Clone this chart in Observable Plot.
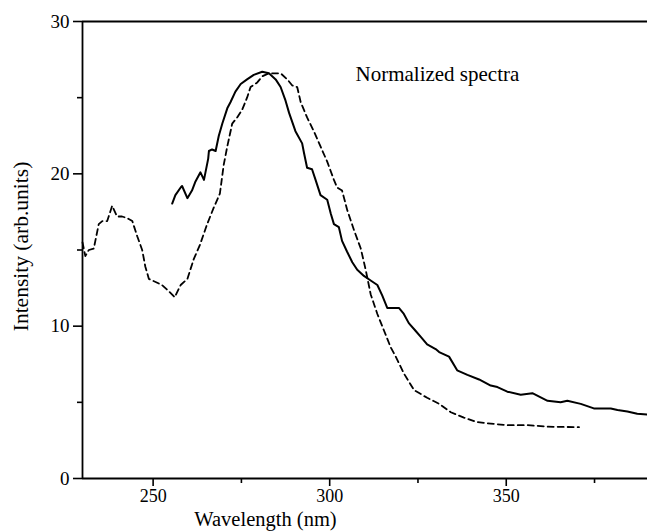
<!DOCTYPE html>
<html>
<head>
<meta charset="utf-8">
<script src="https://cdn.jsdelivr.net/npm/d3@7"></script>
<script src="https://cdn.jsdelivr.net/npm/@observablehq/plot@0.6"></script>
<style>
  html, body { margin: 0; padding: 0; background: #fff; }
  #chart svg { display: block; }
  #chart svg, #chart svg text { font-family: "Liberation Serif", "Times New Roman", "DejaVu Serif", serif !important; }
</style>
</head>
<body>
<div id="chart"></div>
<script>
// Solid spectrum (wavelength nm, intensity)
const solidX = [255.4,256.3,257.8,258.2,259.7,261.0,262.0,263.4,264.4,265.6,265.8,266.7,267.7,268.6,269.6,271.0,271.9,273.3,274.8,276.6,278.5,280.9,282.8,284.7,286.1,287.5,288.5,290.3,292.2,292.7,293.6,295.0,296.0,297.4,299.3,300.3,301.2,302.6,303.5,304.9,306.4,307.8,309.7,311.6,313.5,314.9,316.3,319.6,321.0,322.4,324.3,325.8,327.6,330.0,331.0,333.8,336.1,339.0,342.3,345.6,347.5,350.3,354.1,357.4,361.7,365.4,367.3,371.1,374.8,379.6,381.5,384.3,387.1,390.0];
const solidY = [18.05,18.6,19.1,19.2,18.4,18.9,19.5,20.1,19.6,21.0,21.5,21.6,21.5,22.5,23.3,24.3,24.7,25.4,25.9,26.2,26.5,26.7,26.6,26.2,25.7,24.8,24.0,22.8,22.0,21.4,20.4,20.3,19.6,18.6,18.3,17.4,16.7,16.5,15.6,14.9,14.2,13.7,13.3,13.0,12.7,12.0,11.2,11.2,10.8,10.2,9.7,9.3,8.8,8.5,8.3,8.0,7.1,6.8,6.5,6.1,6.0,5.7,5.5,5.6,5.1,5.0,5.1,4.9,4.6,4.6,4.5,4.4,4.25,4.2];

// Dashed spectrum
const dashX = [230.0,230.8,231.8,233.2,234.6,235.6,237.0,238.4,239.8,241.2,242.6,244.1,245.5,246.9,247.8,248.8,250.7,252.5,254.4,256.1,257.8,259.7,261.5,263.2,265.3,267.2,268.9,270.0,271.0,272.4,273.8,275.2,276.6,277.6,279.5,280.9,282.8,286.1,288.0,289.4,290.8,291.8,293.6,295.5,297.4,299.3,301.2,302.1,303.5,305.0,306.9,308.8,310.2,311.6,313.5,315.4,317.3,318.7,321.0,323.9,327.6,331.0,334.3,338.0,341.8,345.6,350.3,356.0,361.7,370.6];
const dashY = [15.5,14.6,15.0,15.1,16.7,16.9,16.9,17.9,17.2,17.2,17.1,16.9,15.9,15.0,13.9,13.1,12.9,12.7,12.3,11.9,12.7,13.1,14.4,15.3,16.7,17.8,18.7,20.6,21.8,23.3,23.7,24.2,25.0,25.7,26.0,26.4,26.6,26.6,26.2,25.8,25.7,24.7,23.7,22.8,21.8,20.8,19.6,19.1,18.9,17.6,16.3,15.1,13.7,12.1,10.8,9.7,8.6,8.0,6.9,5.8,5.3,4.9,4.35,4.0,3.7,3.6,3.5,3.5,3.4,3.37];

const xMajor = [250, 300, 350];
const xMinor = [275, 325, 375];
const yMajor = [0, 10, 20, 30];
const yMinor = [5, 15, 25];

const xDomain = [230, 390];
const yDomain = [0, 30];

const titleText = "Normalized spectra";
const xLabel = "Wavelength (nm)";
const yLabel = "Intensity (arb.units)";

const solid = solidX.map((x, i) => ({x, y: solidY[i]}));
const dashed = dashX.map((x, i) => ({x, y: dashY[i]}));

const FONT = "'Liberation Serif', 'Times New Roman', serif";
const W = 647, H = 532;
const mL = 82, mR = 0, mT = 21, mB = 54;

const chart = Plot.plot({
  width: W,
  height: H,
  marginLeft: mL,
  marginRight: mR,
  marginTop: mT,
  marginBottom: mB,
  x: {domain: xDomain},
  y: {domain: yDomain},
  style: {fontFamily: FONT, color: "#000", background: "#fff"},
  marks: [
    Plot.axisY({ticks: yMajor, tickSize: 9, tickPadding: 4, strokeWidth: 1.6, fontSize: 19, label: null}),
    Plot.axisY({ticks: yMinor, tickSize: 5, tickFormat: () => "", strokeWidth: 1.6, label: null}),
    Plot.axisX({ticks: xMajor, tickSize: 8, tickPadding: 3, strokeWidth: 1.6, fontSize: 18, label: null}),
    Plot.axisX({ticks: xMinor, tickSize: 5, tickFormat: () => "", strokeWidth: 1.6, label: null}),
    Plot.ruleX([xDomain[0]], {stroke: "#000", strokeWidth: 1.8}),
    Plot.ruleY(yDomain, {stroke: "#000", strokeWidth: 1.8}),
    Plot.line(dashed, {x: "x", y: "y", stroke: "#000", strokeWidth: 1.8, strokeDasharray: "6,4"}),
    Plot.line(solid, {x: "x", y: "y", stroke: "#000", strokeWidth: 2}),
    Plot.text([titleText], {frameAnchor: "top-left", dx: 273, dy: 53, textAnchor: "start", lineAnchor: "middle", fontSize: 21, fill: "#000"}),
    Plot.text([xLabel], {frameAnchor: "bottom", dx: -99.5, dy: 41, textAnchor: "middle", lineAnchor: "middle", fontSize: 20.5, fill: "#000"}),
    Plot.text([yLabel], {frameAnchor: "left", dx: -61.7, dy: -3.5, rotate: -90, textAnchor: "middle", lineAnchor: "middle", fontSize: 21.5, fill: "#000"})
  ]
});

d3.select(chart).attr("font-family", FONT).selectAll("text, g").attr("font-family", FONT);
document.getElementById("chart").appendChild(chart);
</script>
</body>
</html>
